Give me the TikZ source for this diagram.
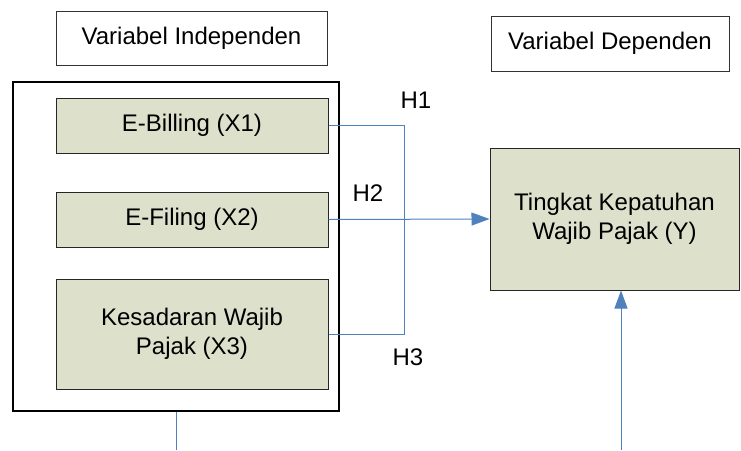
\documentclass[tikz,border=0pt]{standalone}
\usepackage{fontspec}
\setmainfont{Liberation Sans}
\usetikzlibrary{arrows.meta}
\definecolor{boxfill}{RGB}{221,224,203}
\definecolor{linkblue}{RGB}{79,129,189}
\begin{document}
\begin{tikzpicture}[x=1pt, y=-1pt,
  txt/.style={font=\fontsize{24}{29}\selectfont, align=center, inner sep=0pt},
  header/.style={txt, draw=black!80, line width=1pt, fill=white},
  varbox/.style={txt, draw=black!85, line width=1pt, fill=boxfill},
  link/.style={draw=linkblue, line width=1pt},
  arrow/.style={link, -{Triangle[length=18pt, width=13pt]}}]
\useasboundingbox (0,0) rectangle (741,450);
\node [header, minimum width=271pt, minimum height=54pt] (hdrInd) at (191.5,38) {Variabel Independen};
\node [header, minimum width=238pt, minimum height=55pt] (hdrDep) at (610,43.5) {Variabel Dependen};
\node [draw=black, line width=2.5pt, minimum width=326pt, minimum height=329pt] (indep) at (176,246.5) {};
\node [varbox, minimum width=272pt, minimum height=55pt] (x1) at (192,125.5) {E-Billing (X1)};
\node [varbox, minimum width=272pt, minimum height=55pt] (x2) at (192,219.5) {E-Filing (X2)};
\node [varbox, minimum width=272pt, minimum height=110pt] (x3) at (192,334) {Kesadaran Wajib\\Pajak (X3)};
\node [varbox, minimum width=249pt, minimum height=142pt] (yvar) at (614.5,219) {Tingkat Kepatuhan\\Wajib Pajak (Y)};
\coordinate (jct) at (404,219);
\coordinate (endInd) at (176,450);
\coordinate (endDep) at (621,450);
\draw [link] (x1.east) -- (x1.east -| jct) -- (jct);
\draw [link] (x3.east) -- (x3.east -| jct) -- (jct);
\draw [arrow] (x2.east) -- (yvar.west);
\draw [link] (indep.south) -- (endInd);
\draw [arrow] (endDep) -- (endDep |- yvar.south);
\node [txt] (h1) at (416,100) {H1};
\node [txt] (h2) at (368,193) {H2};
\node [txt] (h3) at (408,357) {H3};
\end{tikzpicture}
\end{document}
